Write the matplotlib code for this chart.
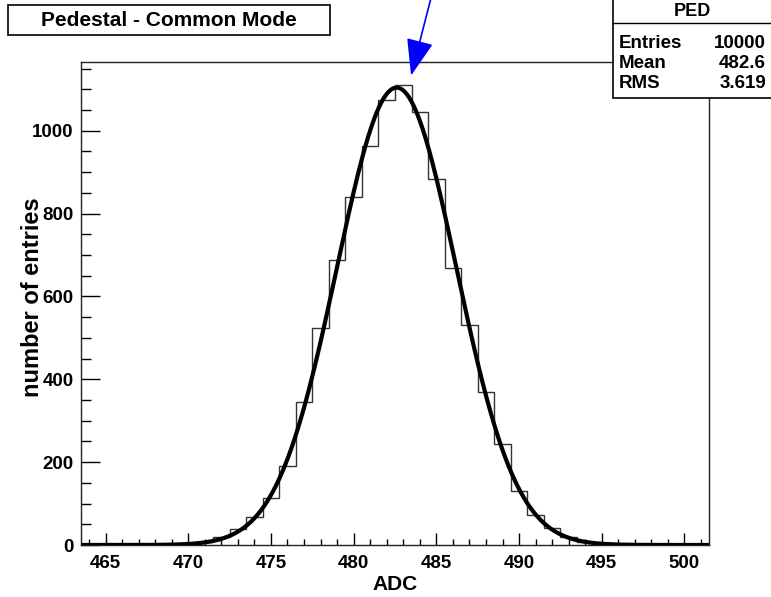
#!/usr/bin/env python3

"""Pedestal - Common Mode histogram with gaussian fit.
"""

import numpy as np
import matplotlib
matplotlib.use("Agg")
import matplotlib.pyplot as plt
from matplotlib.patches import Rectangle

# histogram contents, one ADC per bin
bin_centers = [464, 465, 466, 467, 468, 469, 470, 471, 472, 473, 474, 475, 476,
               477, 478, 479, 480, 481, 482, 483, 484, 485, 486, 487, 488, 489,
               490, 491, 492, 493, 494, 495, 496, 497, 498, 499, 500, 501]
bin_counts = [0, 0, 0, 0, 0, 0, 2, 7, 20, 38, 68, 114, 191,
              346, 523, 687, 841, 962, 1075, 1111, 1044, 883, 668, 531, 370, 244,
              131, 72, 40, 20, 8, 3, 1, 0, 0, 0, 0, 0]

# statistics box
hist_name = "PED"
n_entries = 10000
stat_mean = 482.6
stat_rms = 3.619

# gaussian fit parameters
fit_const = 1104
fit_mean = 482.6
fit_sigma = 3.61

x_ticks = [465, 470, 475, 480, 485, 490, 495, 500]
y_ticks = [0, 200, 400, 600, 800, 1000]

FONT = "Liberation Sans"


def main():
    W, H = 771, 597
    fig = plt.figure(figsize=(W / 100, H / 100), dpi=100)
    ax = fig.add_axes([80.7 / W, 1 - 545 / H, (709.3 - 80.7) / W, (545 - 61.7) / H])

    centers = np.array(bin_centers, dtype=float)
    edges = np.append(centers - 0.5, centers[-1] + 0.5)
    ax.stairs(bin_counts, edges, color="#333333", lw=1.0, baseline=0)

    xs = np.linspace(edges[0], edges[-1], 600)
    ax.plot(xs, fit_const * np.exp(-0.5 * ((xs - fit_mean) / fit_sigma) ** 2),
            color="black", lw=3.0, solid_capstyle="butt", zorder=3)

    ax.set_xlim(edges[0], edges[-1])
    ax.set_ylim(0, max(bin_counts) * 1.05)

    ax.set_xticks(x_ticks)
    ax.set_xticks(np.arange(464, 502), minor=True)
    ax.set_yticks(y_ticks)
    ax.set_yticks(np.arange(0, 1151, 50), minor=True)
    ax.tick_params(axis="x", which="major", direction="in", length=9, width=1, pad=7)
    ax.tick_params(axis="x", which="minor", direction="in", length=4.5, width=1)
    ax.tick_params(axis="y", which="major", direction="in", length=14, width=1, pad=5)
    ax.tick_params(axis="y", which="minor", direction="in", length=7, width=1)
    for lab in ax.get_xticklabels() + ax.get_yticklabels():
        lab.set_fontfamily(FONT)
        lab.set_fontweight("bold")
        lab.set_fontsize(13.5)
    for sp in ax.spines.values():
        sp.set_linewidth(1.0)
        sp.set_color("#222222")

    ax.set_xlabel("ADC", fontfamily=FONT, fontweight="bold", fontsize=15)
    ax.xaxis.set_label_coords(0.5, (545 - 584) / 483.3)
    ax.xaxis.label.set_va("center")
    ax.set_ylabel("number of entries", fontfamily=FONT, fontweight="bold", fontsize=17)
    ax.yaxis.set_label_coords((32.5 - 80.7) / 628.6, (545 - 297) / 483.3)
    ax.yaxis.label.set_va("center")

    # arrow pointing at the peak
    ax.annotate("", xy=(483.47, 1133), xycoords="data",
                xytext=(431, H + 2), textcoords="figure pixels",
                arrowprops=dict(arrowstyle="-|>,head_length=2.3,head_width=0.85",
                                mutation_scale=10, color="blue", lw=1.2,
                                shrinkA=0, shrinkB=0),
                annotation_clip=False, zorder=5)

    # title box
    fig.patches.append(Rectangle((8 / W, 1 - 35 / H), 322 / W, 30 / H,
                                 transform=fig.transFigure, facecolor="white",
                                 edgecolor="black", lw=1.2, zorder=10))
    fig.text(169 / W, 1 - 20 / H, "Pedestal - Common Mode", ha="center", va="center",
             fontfamily=FONT, fontweight="bold", fontsize=15, zorder=11)

    # stats box
    fig.patches.append(Rectangle((613 / W, 1 - 98 / H), 170 / W, 100 / H,
                                 transform=fig.transFigure, facecolor="white",
                                 edgecolor="black", lw=1.2, zorder=10))
    fig.lines.append(plt.Line2D([613 / W, 1], [1 - 23 / H, 1 - 23 / H],
                                transform=fig.transFigure, color="black", lw=1.0,
                                zorder=11))
    fig.text(692 / W, 1 - 11 / H, hist_name, ha="center", va="center",
             fontfamily=FONT, fontweight="bold", fontsize=13, zorder=12)
    rows = [("Entries", "%d" % n_entries), ("Mean", "%.1f" % stat_mean),
            ("RMS", "%.3f" % stat_rms)]
    for i, (name, val) in enumerate(rows):
        y = 1 - (43 + 20 * i) / H
        fig.text(619 / W, y, name, ha="left", va="center", fontfamily=FONT,
                 fontweight="bold", fontsize=13.5, zorder=12)
        fig.text(766 / W, y, val, ha="right", va="center", fontfamily=FONT,
                 fontweight="bold", fontsize=13.5, zorder=12)

    fig.savefig("out.png", dpi=100)


if __name__ == "__main__":
    main()
